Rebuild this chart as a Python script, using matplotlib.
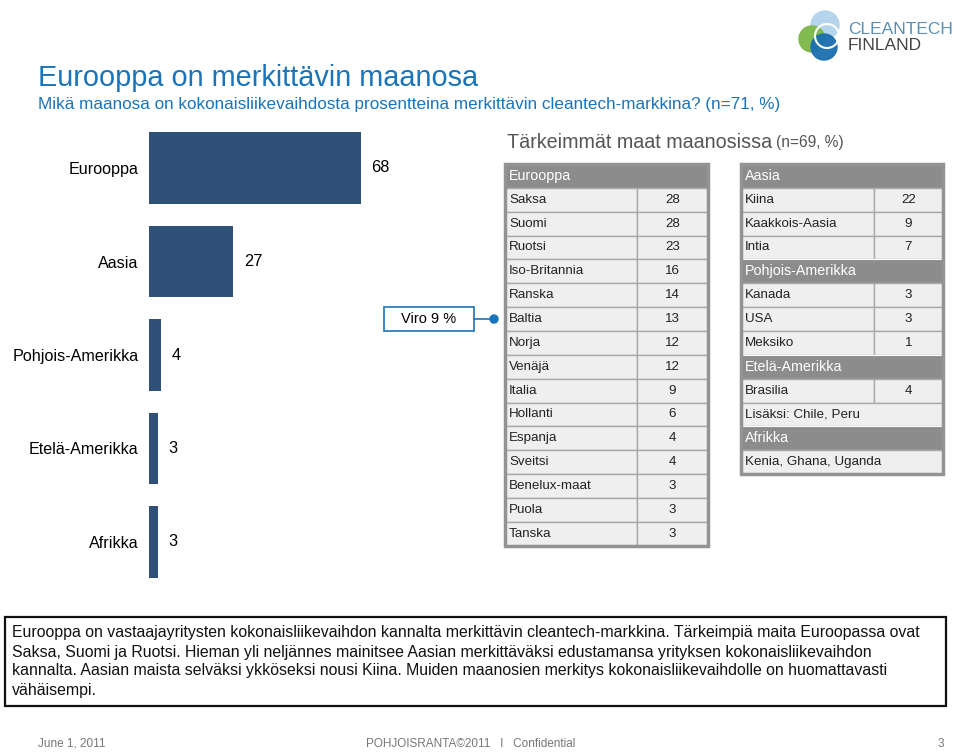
import matplotlib
matplotlib.use("Agg")
import matplotlib.pyplot as plt
from matplotlib.patches import Rectangle, Circle

plt.rcParams['font.family'] = ['Liberation Sans', 'DejaVu Sans']

# ---------------- data ----------------
continents = ['Eurooppa', 'Aasia', 'Pohjois-Amerikka', 'Etelä-Amerikka', 'Afrikka']
continent_values = [68, 27, 4, 3, 3]

europe_countries = ['Saksa', 'Suomi', 'Ruotsi', 'Iso-Britannia', 'Ranska', 'Baltia',
                    'Norja', 'Venäjä', 'Italia', 'Hollanti', 'Espanja', 'Sveitsi',
                    'Benelux-maat', 'Puola', 'Tanska']
europe_values = [28, 28, 23, 16, 14, 13, 12, 12, 9, 6, 4, 4, 3, 3, 3]

asia_countries = ['Kiina', 'Kaakkois-Aasia', 'Intia']
asia_values = [22, 9, 7]
na_countries = ['Kanada', 'USA', 'Meksiko']
na_values = [3, 3, 1]
sa_countries = ['Brasilia']
sa_values = [4]
sa_note = 'Lisäksi: Chile, Peru'
africa_note = 'Kenia, Ghana, Uganda'

viro_label = 'Viro 9 %'

title = 'Eurooppa on merkittävin maanosa'
subtitle = 'Mikä maanosa on kokonaisliikevaihdosta prosentteina merkittävin cleantech-markkina? (n=71, %)'
table_title = 'Tärkeimmät maat maanosissa'
table_n = '(n=69, %)'
summary_lines = [
    'Eurooppa on vastaajayritysten kokonaisliikevaihdon kannalta merkittävin cleantech-markkina. Tärkeimpiä maita Euroopassa ovat',
    'Saksa, Suomi ja Ruotsi. Hieman yli neljännes mainitsee Aasian merkittäväksi edustamansa yrityksen kokonaisliikevaihdon',
    'kannalta. Aasian maista selväksi ykköseksi nousi Kiina. Muiden maanosien merkitys kokonaisliikevaihdolle on huomattavasti',
    'vähäisempi.',
]
footer_left = 'June 1, 2011'
footer_mid = 'POHJOISRANTA©2011   I   Confidential'
footer_right = '3'

# ---------------- figure ----------------
W, H = 960, 752
fig = plt.figure(figsize=(W / 100, H / 100), dpi=100)
fig.patch.set_facecolor('white')

ax0 = fig.add_axes([0, 0, 1, 1])
ax0.set_xlim(0, W)
ax0.set_ylim(H, 0)
ax0.axis('off')

BLUE = '#1a74ba'
BAR = '#2f5179'

# titles
ax0.text(38, 78, title, fontsize=20.8, color=BLUE, va='center', ha='left')
ax0.text(38, 104, subtitle, fontsize=12.3, color=BLUE, va='center', ha='left')

# logo
ax0.add_patch(Circle((825, 25), 14, color='#b5d5ec', zorder=2))
ax0.add_patch(Circle((812, 39), 13, color='#7cb84a', zorder=3, alpha=0.95))
ax0.add_patch(Circle((824, 47), 13, color='#1a6fb0', zorder=4, alpha=0.95))
ax0.add_patch(Circle((827, 36), 12, fill=False, ec='white', lw=1.5, zorder=5))
ax0.text(848, 30, 'CLEANTECH', fontsize=12.5, color='#5a8fb3', va='center', ha='left')
ax0.text(848, 45, 'FINLAND', fontsize=12.5, color='#444444', va='center', ha='left')

# ---------------- bar chart ----------------
px_per_unit = 3.12
bar_left, step = 149, 93.5
top = 168 - step / 2
n = len(continents)
axb = fig.add_axes([bar_left / W, 1 - (top + n * step) / H, 100 * px_per_unit / W, n * step / H])
axb.patch.set_alpha(0)
ypos = list(range(n))
axb.barh(ypos, continent_values, height=0.76, color=BAR)
axb.set_xlim(0, 100)
axb.set_ylim(n - 0.5, -0.5)
axb.set_yticks(ypos)
axb.set_yticklabels(continents, fontsize=11.6)
axb.tick_params(axis='y', length=0, pad=7.5)
axb.set_xticks([])
for s in axb.spines.values():
    s.set_visible(False)
for i, v in enumerate(continent_values):
    axb.annotate(str(v), (v, i), xytext=(7.5, 0), textcoords='offset points',
                 va='center', ha='left', fontsize=11.8)

# ---------------- tables ----------------
ax0.text(507, 142, table_title, fontsize=14.2, color='#555555', va='center', ha='left')
ax0.text(776, 143, table_n, fontsize=11.2, color='#555555', va='center', ha='left')

ROW_H = 23.85
TOP = 164
CELL = '#efefef'
GRID = '#a8a8a8'
HEAD = '#8c8c8c'


def draw_table(x0, x1, xs, rows):
    for i, (kind, label, value) in enumerate(rows):
        y = TOP + i * ROW_H
        if kind == 'header':
            ax0.add_patch(Rectangle((x0, y), x1 - x0, ROW_H, fc=HEAD, ec='white', lw=0.8, zorder=2))
            ax0.text(x0 + 4, y + ROW_H / 2, label, color='white', fontsize=10.3,
                     va='center', ha='left', zorder=3)
        elif kind == 'span':
            ax0.add_patch(Rectangle((x0, y), x1 - x0, ROW_H, fc=CELL, ec=GRID, lw=1, zorder=2))
            ax0.text(x0 + 4, y + ROW_H / 2, label, color='#222222', fontsize=9.6,
                     va='center', ha='left', zorder=3)
        else:
            ax0.add_patch(Rectangle((x0, y), xs - x0, ROW_H, fc=CELL, ec=GRID, lw=1, zorder=2))
            ax0.add_patch(Rectangle((xs, y), x1 - xs, ROW_H, fc=CELL, ec=GRID, lw=1, zorder=2))
            ax0.text(x0 + 4, y + ROW_H / 2, label, color='#222222', fontsize=9.6,
                     va='center', ha='left', zorder=3)
            ax0.text((xs + x1) / 2, y + ROW_H / 2, str(value), color='#222222', fontsize=9.6,
                     va='center', ha='center', zorder=3)
    ax0.add_patch(Rectangle((x0, TOP), x1 - x0, len(rows) * ROW_H, fill=False,
                            ec='#939393', lw=2.5, zorder=4))


europe_rows = [('header', 'Eurooppa', None)] + [('row', c, v) for c, v in zip(europe_countries, europe_values)]
draw_table(505, 708, 637, europe_rows)

world_rows = ([('header', 'Aasia', None)] + [('row', c, v) for c, v in zip(asia_countries, asia_values)]
              + [('header', 'Pohjois-Amerikka', None)] + [('row', c, v) for c, v in zip(na_countries, na_values)]
              + [('header', 'Etelä-Amerikka', None)] + [('row', c, v) for c, v in zip(sa_countries, sa_values)]
              + [('span', sa_note, None)]
              + [('header', 'Afrikka', None)] + [('span', africa_note, None)])
draw_table(741, 943, 874, world_rows)

# Viro callout
baltia_y = TOP + (europe_countries.index('Baltia') + 1) * ROW_H + ROW_H / 2
ax0.add_patch(Rectangle((384, baltia_y - 12), 90, 24, fill=False, ec=BLUE, lw=1.2, zorder=3))
ax0.text(429, baltia_y, viro_label, fontsize=10.5, va='center', ha='center', zorder=3)
ax0.plot([474, 494], [baltia_y, baltia_y], color=BLUE, lw=1.2, zorder=3)
ax0.add_patch(Circle((494, baltia_y), 4, color=BLUE, zorder=5))

# ---------------- summary box ----------------
ax0.add_patch(Rectangle((5, 617), 941, 89, fill=False, ec='#111111', lw=1.6, zorder=3))
for k, line in enumerate(summary_lines):
    ax0.text(12, 633 + k * 19, line, fontsize=11.4, color='#111111', va='center', ha='left')

# footer
ax0.text(38, 744, footer_left, fontsize=8.5, color='#777777', va='center', ha='left')
ax0.text(471, 744, footer_mid, fontsize=8.5, color='#777777', va='center', ha='center')
ax0.text(944, 744, footer_right, fontsize=8.5, color='#777777', va='center', ha='right')

fig.savefig('out.png', dpi=100, facecolor='white')
